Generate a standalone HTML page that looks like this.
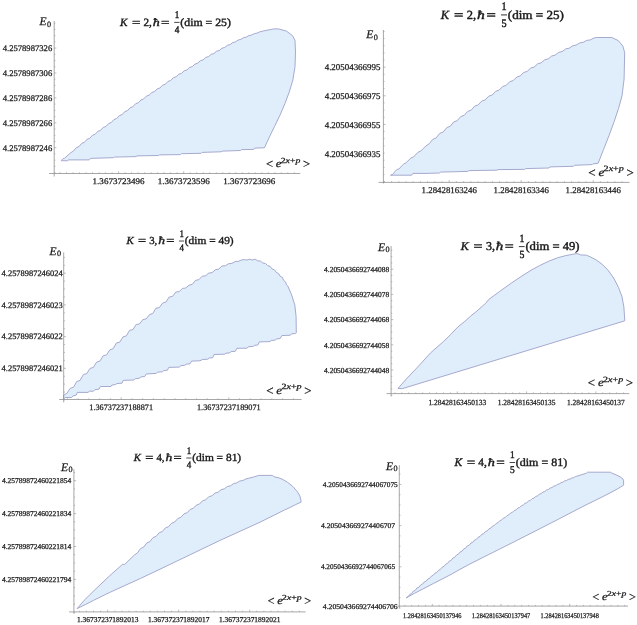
<!DOCTYPE html>
<html><head><meta charset="utf-8"><style>
html,body{margin:0;padding:0;background:#fff;width:637px;height:625px;overflow:hidden}
svg{display:block;will-change:transform}
text{font-family:"Liberation Serif",serif;text-rendering:geometricPrecision;stroke:#1a1a1a;stroke-width:0.25px}
.t text{stroke-width:0.4px}
</style></head><body>
<svg width="637" height="625" viewBox="0 0 637 625">
<polygon points="61.2,160.7 63.1,158.6 64.4,158.3 70.8,152.7 73.5,151.0 76.2,147.7 78.9,146.6 81.6,143.4 84.3,142.4 87.0,139.3 89.7,138.3 92.4,135.3 95.1,134.3 97.8,131.4 100.5,130.4 103.2,127.4 105.9,126.5 108.6,123.5 111.3,122.5 114.0,119.5 116.7,118.5 119.4,115.6 122.1,114.6 124.8,111.6 127.5,110.6 130.2,107.7 132.9,106.7 135.6,103.7 138.3,102.8 141.0,99.9 143.7,98.9 146.4,96.1 149.1,95.2 151.8,92.5 154.5,91.6 157.2,88.9 159.9,88.0 162.6,85.2 165.3,84.3 168.0,81.4 170.7,80.5 173.4,77.7 176.1,76.8 178.8,74.2 181.5,73.4 184.2,70.8 186.9,70.0 189.6,67.4 192.3,66.6 195.0,64.1 197.7,63.2 200.4,60.7 203.1,59.9 205.8,57.4 208.5,56.6 211.2,54.3 213.9,53.5 216.6,51.2 219.3,50.5 222.0,48.2 224.7,47.5 227.4,45.3 230.1,44.6 232.8,42.5 235.5,41.9 238.2,40.0 240.9,39.4 243.6,37.6 246.3,37.1 249.0,35.5 251.7,35.0 254.4,33.6 257.1,33.1 259.8,31.8 262.8,31.1 273.8,28.9 278.5,28.9 286.3,31.0 292.6,35.7 295.0,40.4 295.5,52.2 295.0,66.6 292.9,79.9 289.3,91.9 284.9,103.7 280.0,115.1 274.5,126.5 269.2,137.4 264.4,147.8 254.6,148.1 253.8,149.4 241.6,149.6 240.6,150.5 222.8,151.1 220.9,151.8 202.0,152.4 201.1,153.3 181.3,153.7 180.4,154.6 159.6,154.9 158.6,155.5 137.0,155.9 136.0,156.6 114.3,157.1 113.4,157.7 90.6,158.4 89.4,159.9 68.2,159.9 67.6,160.8" fill="#e0edfb" stroke="#9da2c8" stroke-width="0.9" stroke-linejoin="round"/>
<line x1="54.2" y1="21" x2="54.2" y2="176.5" stroke="#909090" stroke-width="0.8"/>
<line x1="49" y1="173.5" x2="300.3" y2="173.5" stroke="#909090" stroke-width="0.8"/>
<line x1="54.2" y1="23.20" x2="55.40" y2="23.20" stroke="#909090" stroke-width="0.6"/>
<line x1="54.2" y1="29.42" x2="55.40" y2="29.42" stroke="#909090" stroke-width="0.6"/>
<line x1="54.2" y1="35.65" x2="55.40" y2="35.65" stroke="#909090" stroke-width="0.6"/>
<line x1="54.2" y1="41.88" x2="55.40" y2="41.88" stroke="#909090" stroke-width="0.6"/>
<line x1="54.2" y1="48.10" x2="56.40" y2="48.10" stroke="#909090" stroke-width="0.6"/>
<line x1="54.2" y1="54.33" x2="55.40" y2="54.33" stroke="#909090" stroke-width="0.6"/>
<line x1="54.2" y1="60.55" x2="55.40" y2="60.55" stroke="#909090" stroke-width="0.6"/>
<line x1="54.2" y1="66.78" x2="55.40" y2="66.78" stroke="#909090" stroke-width="0.6"/>
<line x1="54.2" y1="73.00" x2="56.40" y2="73.00" stroke="#909090" stroke-width="0.6"/>
<line x1="54.2" y1="79.22" x2="55.40" y2="79.22" stroke="#909090" stroke-width="0.6"/>
<line x1="54.2" y1="85.45" x2="55.40" y2="85.45" stroke="#909090" stroke-width="0.6"/>
<line x1="54.2" y1="91.67" x2="55.40" y2="91.67" stroke="#909090" stroke-width="0.6"/>
<line x1="54.2" y1="97.90" x2="56.40" y2="97.90" stroke="#909090" stroke-width="0.6"/>
<line x1="54.2" y1="104.12" x2="55.40" y2="104.12" stroke="#909090" stroke-width="0.6"/>
<line x1="54.2" y1="110.35" x2="55.40" y2="110.35" stroke="#909090" stroke-width="0.6"/>
<line x1="54.2" y1="116.57" x2="55.40" y2="116.57" stroke="#909090" stroke-width="0.6"/>
<line x1="54.2" y1="122.80" x2="56.40" y2="122.80" stroke="#909090" stroke-width="0.6"/>
<line x1="54.2" y1="129.02" x2="55.40" y2="129.02" stroke="#909090" stroke-width="0.6"/>
<line x1="54.2" y1="135.25" x2="55.40" y2="135.25" stroke="#909090" stroke-width="0.6"/>
<line x1="54.2" y1="141.47" x2="55.40" y2="141.47" stroke="#909090" stroke-width="0.6"/>
<line x1="54.2" y1="147.70" x2="56.40" y2="147.70" stroke="#909090" stroke-width="0.6"/>
<line x1="54.2" y1="153.92" x2="55.40" y2="153.92" stroke="#909090" stroke-width="0.6"/>
<line x1="54.2" y1="160.15" x2="55.40" y2="160.15" stroke="#909090" stroke-width="0.6"/>
<line x1="54.2" y1="166.37" x2="55.40" y2="166.37" stroke="#909090" stroke-width="0.6"/>
<line x1="54.2" y1="172.60" x2="55.40" y2="172.60" stroke="#909090" stroke-width="0.6"/>
<line x1="60.01" y1="173.5" x2="60.01" y2="172.3" stroke="#909090" stroke-width="0.6"/>
<line x1="66.52" y1="173.5" x2="66.52" y2="172.3" stroke="#909090" stroke-width="0.6"/>
<line x1="73.03" y1="173.5" x2="73.03" y2="172.3" stroke="#909090" stroke-width="0.6"/>
<line x1="79.54" y1="173.5" x2="79.54" y2="172.3" stroke="#909090" stroke-width="0.6"/>
<line x1="86.05" y1="173.5" x2="86.05" y2="172.3" stroke="#909090" stroke-width="0.6"/>
<line x1="92.56" y1="173.5" x2="92.56" y2="172.3" stroke="#909090" stroke-width="0.6"/>
<line x1="99.07" y1="173.5" x2="99.07" y2="172.3" stroke="#909090" stroke-width="0.6"/>
<line x1="105.58" y1="173.5" x2="105.58" y2="172.3" stroke="#909090" stroke-width="0.6"/>
<line x1="112.09" y1="173.5" x2="112.09" y2="172.3" stroke="#909090" stroke-width="0.6"/>
<line x1="118.60" y1="173.5" x2="118.60" y2="171.3" stroke="#909090" stroke-width="0.6"/>
<line x1="125.11" y1="173.5" x2="125.11" y2="172.3" stroke="#909090" stroke-width="0.6"/>
<line x1="131.62" y1="173.5" x2="131.62" y2="172.3" stroke="#909090" stroke-width="0.6"/>
<line x1="138.13" y1="173.5" x2="138.13" y2="172.3" stroke="#909090" stroke-width="0.6"/>
<line x1="144.64" y1="173.5" x2="144.64" y2="172.3" stroke="#909090" stroke-width="0.6"/>
<line x1="151.15" y1="173.5" x2="151.15" y2="172.3" stroke="#909090" stroke-width="0.6"/>
<line x1="157.66" y1="173.5" x2="157.66" y2="172.3" stroke="#909090" stroke-width="0.6"/>
<line x1="164.17" y1="173.5" x2="164.17" y2="172.3" stroke="#909090" stroke-width="0.6"/>
<line x1="170.68" y1="173.5" x2="170.68" y2="172.3" stroke="#909090" stroke-width="0.6"/>
<line x1="177.19" y1="173.5" x2="177.19" y2="172.3" stroke="#909090" stroke-width="0.6"/>
<line x1="183.70" y1="173.5" x2="183.70" y2="171.3" stroke="#909090" stroke-width="0.6"/>
<line x1="190.21" y1="173.5" x2="190.21" y2="172.3" stroke="#909090" stroke-width="0.6"/>
<line x1="196.72" y1="173.5" x2="196.72" y2="172.3" stroke="#909090" stroke-width="0.6"/>
<line x1="203.23" y1="173.5" x2="203.23" y2="172.3" stroke="#909090" stroke-width="0.6"/>
<line x1="209.74" y1="173.5" x2="209.74" y2="172.3" stroke="#909090" stroke-width="0.6"/>
<line x1="216.25" y1="173.5" x2="216.25" y2="172.3" stroke="#909090" stroke-width="0.6"/>
<line x1="222.76" y1="173.5" x2="222.76" y2="172.3" stroke="#909090" stroke-width="0.6"/>
<line x1="229.27" y1="173.5" x2="229.27" y2="172.3" stroke="#909090" stroke-width="0.6"/>
<line x1="235.78" y1="173.5" x2="235.78" y2="172.3" stroke="#909090" stroke-width="0.6"/>
<line x1="242.29" y1="173.5" x2="242.29" y2="172.3" stroke="#909090" stroke-width="0.6"/>
<line x1="248.80" y1="173.5" x2="248.80" y2="172.3" stroke="#909090" stroke-width="0.6"/>
<line x1="255.31" y1="173.5" x2="255.31" y2="172.3" stroke="#909090" stroke-width="0.6"/>
<line x1="261.82" y1="173.5" x2="261.82" y2="172.3" stroke="#909090" stroke-width="0.6"/>
<line x1="268.33" y1="173.5" x2="268.33" y2="172.3" stroke="#909090" stroke-width="0.6"/>
<line x1="274.84" y1="173.5" x2="274.84" y2="172.3" stroke="#909090" stroke-width="0.6"/>
<line x1="281.35" y1="173.5" x2="281.35" y2="172.3" stroke="#909090" stroke-width="0.6"/>
<line x1="287.86" y1="173.5" x2="287.86" y2="172.3" stroke="#909090" stroke-width="0.6"/>
<line x1="294.37" y1="173.5" x2="294.37" y2="172.3" stroke="#909090" stroke-width="0.6"/>
<text x="2.7" y="51.0" font-size="8.6" textLength="49.5" lengthAdjust="spacingAndGlyphs" fill="#1a1a1a">4.2578987326</text>
<text x="2.7" y="75.9" font-size="8.6" textLength="49.5" lengthAdjust="spacingAndGlyphs" fill="#1a1a1a">4.2578987306</text>
<text x="2.7" y="100.8" font-size="8.6" textLength="49.5" lengthAdjust="spacingAndGlyphs" fill="#1a1a1a">4.2578987286</text>
<text x="2.7" y="125.7" font-size="8.6" textLength="49.5" lengthAdjust="spacingAndGlyphs" fill="#1a1a1a">4.2578987266</text>
<text x="2.7" y="150.6" font-size="8.6" textLength="49.5" lengthAdjust="spacingAndGlyphs" fill="#1a1a1a">4.2578987246</text>
<text x="92.6" y="183.8" font-size="8.6" textLength="52" lengthAdjust="spacingAndGlyphs" fill="#1a1a1a">1.3673723496</text>
<text x="157.7" y="183.8" font-size="8.6" textLength="52" lengthAdjust="spacingAndGlyphs" fill="#1a1a1a">1.3673723596</text>
<text x="223.3" y="183.8" font-size="8.6" textLength="52" lengthAdjust="spacingAndGlyphs" fill="#1a1a1a">1.3673723696</text>
<g transform="translate(39.5,25.2) scale(1.0)" fill="#1a1a1a">
<text x="-0.1" y="0" font-size="11.5" font-style="italic">E</text>
<text x="7.5" y="1.5" font-size="8.2">0</text>
</g>
<g transform="translate(266.5,166.8) scale(1.0)" fill="#1a1a1a">
<text x="-0.63" y="1.15" font-size="12.6">&lt;</text>
<text x="9.2" y="0" font-size="11" font-style="italic" textLength="5.7" lengthAdjust="spacingAndGlyphs">e</text>
<text x="14.2" y="-4.1" font-size="7.8" textLength="19.6" lengthAdjust="spacingAndGlyphs">2<tspan font-style="italic">x</tspan>+<tspan font-style="italic">p</tspan></text>
<text x="36.46" y="1.15" font-size="12.6">&gt;</text>
</g>
<g class="t" transform="translate(120.5,25.7) scale(1.0)" fill="#1a1a1a">
<text x="-0.6" y="0" font-size="11.2" font-style="italic">K</text>
<text x="11.4" y="0" font-size="11.2" textLength="8.4" lengthAdjust="spacingAndGlyphs">=</text>
<text x="22.9" y="0" font-size="11.2">2,</text>
<text x="32.2" y="0" font-size="11.2" font-style="italic" textLength="7.0" lengthAdjust="spacingAndGlyphs">ħ</text>
<text x="40.6" y="0" font-size="11.2" textLength="8.4" lengthAdjust="spacingAndGlyphs">=</text>
<text x="54.2" y="-7.9" font-size="10.2" textLength="4.6" lengthAdjust="spacingAndGlyphs">1</text>
<rect x="53.7" y="-3.8" width="5.4" height="0.8"/>
<text x="54.2" y="7.1" font-size="10.2" textLength="4.6" lengthAdjust="spacingAndGlyphs">4</text>
<text x="59.8" y="0" font-size="11.2" textLength="50.6" lengthAdjust="spacingAndGlyphs">(dim = 25)</text>
</g>
<polygon points="390.5,175.2 392.4,174.6 396.9,169.4 398.8,169.1 403.9,163.7 405.8,163.0 411.0,157.9 413.5,157.0 418.0,152.2 420.6,151.2 425.7,146.1 429.2,143.8 432.7,139.4 436.2,137.9 439.7,133.4 443.2,132.0 446.7,127.7 450.2,126.3 453.7,122.0 457.2,120.7 460.7,116.6 464.2,115.3 467.7,111.4 471.2,110.1 474.7,106.1 478.2,104.9 481.7,101.1 485.2,99.9 488.7,96.2 492.2,95.0 495.7,91.3 499.2,90.1 502.7,86.5 506.2,85.3 509.7,81.7 513.2,80.6 516.7,77.1 520.2,75.9 523.7,72.5 527.2,71.4 530.7,68.1 534.2,67.0 537.7,63.8 541.2,62.8 544.7,59.8 548.2,58.9 551.7,56.0 555.2,55.1 558.7,52.4 562.2,51.5 565.7,48.9 569.2,48.2 572.7,45.8 576.2,45.1 579.7,42.9 583.2,42.3 586.7,40.4 590.2,39.9 593.7,38.1 596.4,37.5 611.8,37.5 618.3,40.6 622.9,46.1 624.7,52.6 624.1,79.0 622.0,95.9 618.5,108.5 614.1,121.7 609.0,135.6 603.5,149.6 598.2,163.2 592.9,163.9 592.2,164.6 574.5,165.3 573.5,166.3 550.0,166.9 549.0,168.0 525.5,168.6 524.5,169.4 498.0,169.6 497.1,170.2 468.8,170.6 467.9,171.4 440.6,172.1 439.6,173.0 426.0,173.4 412.9,173.4 411.6,175.2" fill="#e0edfb" stroke="#9da2c8" stroke-width="0.9" stroke-linejoin="round"/>
<line x1="383.4" y1="30" x2="383.4" y2="183.5" stroke="#909090" stroke-width="0.8"/>
<line x1="378.5" y1="182.4" x2="629.5" y2="182.4" stroke="#909090" stroke-width="0.8"/>
<line x1="383.4" y1="31.45" x2="384.60" y2="31.45" stroke="#909090" stroke-width="0.6"/>
<line x1="383.4" y1="38.60" x2="384.60" y2="38.60" stroke="#909090" stroke-width="0.6"/>
<line x1="383.4" y1="45.75" x2="384.60" y2="45.75" stroke="#909090" stroke-width="0.6"/>
<line x1="383.4" y1="52.90" x2="384.60" y2="52.90" stroke="#909090" stroke-width="0.6"/>
<line x1="383.4" y1="60.05" x2="384.60" y2="60.05" stroke="#909090" stroke-width="0.6"/>
<line x1="383.4" y1="67.20" x2="385.60" y2="67.20" stroke="#909090" stroke-width="0.6"/>
<line x1="383.4" y1="74.35" x2="384.60" y2="74.35" stroke="#909090" stroke-width="0.6"/>
<line x1="383.4" y1="81.50" x2="384.60" y2="81.50" stroke="#909090" stroke-width="0.6"/>
<line x1="383.4" y1="88.65" x2="384.60" y2="88.65" stroke="#909090" stroke-width="0.6"/>
<line x1="383.4" y1="95.80" x2="385.60" y2="95.80" stroke="#909090" stroke-width="0.6"/>
<line x1="383.4" y1="102.95" x2="384.60" y2="102.95" stroke="#909090" stroke-width="0.6"/>
<line x1="383.4" y1="110.10" x2="384.60" y2="110.10" stroke="#909090" stroke-width="0.6"/>
<line x1="383.4" y1="117.25" x2="384.60" y2="117.25" stroke="#909090" stroke-width="0.6"/>
<line x1="383.4" y1="124.40" x2="385.60" y2="124.40" stroke="#909090" stroke-width="0.6"/>
<line x1="383.4" y1="131.55" x2="384.60" y2="131.55" stroke="#909090" stroke-width="0.6"/>
<line x1="383.4" y1="138.70" x2="384.60" y2="138.70" stroke="#909090" stroke-width="0.6"/>
<line x1="383.4" y1="145.85" x2="384.60" y2="145.85" stroke="#909090" stroke-width="0.6"/>
<line x1="383.4" y1="153.00" x2="384.60" y2="153.00" stroke="#909090" stroke-width="0.6"/>
<line x1="383.4" y1="160.15" x2="384.60" y2="160.15" stroke="#909090" stroke-width="0.6"/>
<line x1="383.4" y1="167.30" x2="384.60" y2="167.30" stroke="#909090" stroke-width="0.6"/>
<line x1="383.4" y1="174.45" x2="384.60" y2="174.45" stroke="#909090" stroke-width="0.6"/>
<line x1="383.4" y1="181.60" x2="384.60" y2="181.60" stroke="#909090" stroke-width="0.6"/>
<line x1="384.40" y1="182.4" x2="384.40" y2="181.20000000000002" stroke="#909090" stroke-width="0.6"/>
<line x1="391.60" y1="182.4" x2="391.60" y2="181.20000000000002" stroke="#909090" stroke-width="0.6"/>
<line x1="398.80" y1="182.4" x2="398.80" y2="181.20000000000002" stroke="#909090" stroke-width="0.6"/>
<line x1="406.00" y1="182.4" x2="406.00" y2="181.20000000000002" stroke="#909090" stroke-width="0.6"/>
<line x1="413.20" y1="182.4" x2="413.20" y2="181.20000000000002" stroke="#909090" stroke-width="0.6"/>
<line x1="420.40" y1="182.4" x2="420.40" y2="181.20000000000002" stroke="#909090" stroke-width="0.6"/>
<line x1="427.60" y1="182.4" x2="427.60" y2="181.20000000000002" stroke="#909090" stroke-width="0.6"/>
<line x1="434.80" y1="182.4" x2="434.80" y2="181.20000000000002" stroke="#909090" stroke-width="0.6"/>
<line x1="442.00" y1="182.4" x2="442.00" y2="181.20000000000002" stroke="#909090" stroke-width="0.6"/>
<line x1="449.20" y1="182.4" x2="449.20" y2="180.20000000000002" stroke="#909090" stroke-width="0.6"/>
<line x1="456.40" y1="182.4" x2="456.40" y2="181.20000000000002" stroke="#909090" stroke-width="0.6"/>
<line x1="463.60" y1="182.4" x2="463.60" y2="181.20000000000002" stroke="#909090" stroke-width="0.6"/>
<line x1="470.80" y1="182.4" x2="470.80" y2="181.20000000000002" stroke="#909090" stroke-width="0.6"/>
<line x1="478.00" y1="182.4" x2="478.00" y2="181.20000000000002" stroke="#909090" stroke-width="0.6"/>
<line x1="485.20" y1="182.4" x2="485.20" y2="181.20000000000002" stroke="#909090" stroke-width="0.6"/>
<line x1="492.40" y1="182.4" x2="492.40" y2="181.20000000000002" stroke="#909090" stroke-width="0.6"/>
<line x1="499.60" y1="182.4" x2="499.60" y2="181.20000000000002" stroke="#909090" stroke-width="0.6"/>
<line x1="506.80" y1="182.4" x2="506.80" y2="181.20000000000002" stroke="#909090" stroke-width="0.6"/>
<line x1="514.00" y1="182.4" x2="514.00" y2="181.20000000000002" stroke="#909090" stroke-width="0.6"/>
<line x1="521.20" y1="182.4" x2="521.20" y2="180.20000000000002" stroke="#909090" stroke-width="0.6"/>
<line x1="528.40" y1="182.4" x2="528.40" y2="181.20000000000002" stroke="#909090" stroke-width="0.6"/>
<line x1="535.60" y1="182.4" x2="535.60" y2="181.20000000000002" stroke="#909090" stroke-width="0.6"/>
<line x1="542.80" y1="182.4" x2="542.80" y2="181.20000000000002" stroke="#909090" stroke-width="0.6"/>
<line x1="550.00" y1="182.4" x2="550.00" y2="181.20000000000002" stroke="#909090" stroke-width="0.6"/>
<line x1="557.20" y1="182.4" x2="557.20" y2="181.20000000000002" stroke="#909090" stroke-width="0.6"/>
<line x1="564.40" y1="182.4" x2="564.40" y2="181.20000000000002" stroke="#909090" stroke-width="0.6"/>
<line x1="571.60" y1="182.4" x2="571.60" y2="181.20000000000002" stroke="#909090" stroke-width="0.6"/>
<line x1="578.80" y1="182.4" x2="578.80" y2="181.20000000000002" stroke="#909090" stroke-width="0.6"/>
<line x1="586.00" y1="182.4" x2="586.00" y2="181.20000000000002" stroke="#909090" stroke-width="0.6"/>
<line x1="593.20" y1="182.4" x2="593.20" y2="180.20000000000002" stroke="#909090" stroke-width="0.6"/>
<line x1="600.40" y1="182.4" x2="600.40" y2="181.20000000000002" stroke="#909090" stroke-width="0.6"/>
<line x1="607.60" y1="182.4" x2="607.60" y2="181.20000000000002" stroke="#909090" stroke-width="0.6"/>
<line x1="614.80" y1="182.4" x2="614.80" y2="181.20000000000002" stroke="#909090" stroke-width="0.6"/>
<line x1="622.00" y1="182.4" x2="622.00" y2="181.20000000000002" stroke="#909090" stroke-width="0.6"/>
<text x="324.7" y="70.2" font-size="8.9" textLength="55.7" lengthAdjust="spacingAndGlyphs" fill="#1a1a1a">4.20504366995</text>
<text x="324.7" y="98.8" font-size="8.9" textLength="55.7" lengthAdjust="spacingAndGlyphs" fill="#1a1a1a">4.20504366975</text>
<text x="324.7" y="127.8" font-size="8.9" textLength="55.7" lengthAdjust="spacingAndGlyphs" fill="#1a1a1a">4.20504366955</text>
<text x="324.7" y="157.1" font-size="8.9" textLength="55.7" lengthAdjust="spacingAndGlyphs" fill="#1a1a1a">4.20504366935</text>
<text x="421.6" y="193.3" font-size="8.9" textLength="55.2" lengthAdjust="spacingAndGlyphs" fill="#1a1a1a">1.28428163246</text>
<text x="493.6" y="193.3" font-size="8.9" textLength="55.2" lengthAdjust="spacingAndGlyphs" fill="#1a1a1a">1.28428163346</text>
<text x="565.6" y="193.3" font-size="8.9" textLength="55.2" lengthAdjust="spacingAndGlyphs" fill="#1a1a1a">1.28428163446</text>
<g transform="translate(366.3,38.4) scale(1.0)" fill="#1a1a1a">
<text x="-0.1" y="0" font-size="11.5" font-style="italic">E</text>
<text x="7.5" y="1.5" font-size="8.2">0</text>
</g>
<g transform="translate(589,175.6) scale(1.03)" fill="#1a1a1a">
<text x="-0.63" y="1.15" font-size="12.6">&lt;</text>
<text x="9.2" y="0" font-size="11" font-style="italic" textLength="5.7" lengthAdjust="spacingAndGlyphs">e</text>
<text x="14.2" y="-4.1" font-size="7.8" textLength="19.6" lengthAdjust="spacingAndGlyphs">2<tspan font-style="italic">x</tspan>+<tspan font-style="italic">p</tspan></text>
<text x="36.46" y="1.15" font-size="12.6">&gt;</text>
</g>
<g class="t" transform="translate(441.4,18.7) scale(1.11)" fill="#1a1a1a">
<text x="-0.6" y="0" font-size="11.2" font-style="italic">K</text>
<text x="11.4" y="0" font-size="11.2" textLength="8.4" lengthAdjust="spacingAndGlyphs">=</text>
<text x="22.9" y="0" font-size="11.2">2,</text>
<text x="32.2" y="0" font-size="11.2" font-style="italic" textLength="7.0" lengthAdjust="spacingAndGlyphs">ħ</text>
<text x="40.6" y="0" font-size="11.2" textLength="8.4" lengthAdjust="spacingAndGlyphs">=</text>
<text x="54.2" y="-7.9" font-size="10.2" textLength="4.6" lengthAdjust="spacingAndGlyphs">1</text>
<rect x="53.7" y="-3.8" width="5.4" height="0.8"/>
<text x="54.2" y="7.1" font-size="10.2" textLength="4.6" lengthAdjust="spacingAndGlyphs">5</text>
<text x="59.8" y="0" font-size="11.2" textLength="50.6" lengthAdjust="spacingAndGlyphs">(dim = 25)</text>
</g>
<polygon points="63.6,399.2 63.6,395.2 66.9,393.3 70.2,388.3 73.5,387.2 76.8,381.5 80.1,380.4 83.4,374.4 86.7,373.7 90.0,368.4 93.3,367.5 96.6,362.1 99.9,361.1 103.2,355.7 106.5,354.9 109.8,349.9 113.1,348.7 116.4,343.0 119.7,342.2 123.0,336.9 126.3,335.9 129.6,330.3 132.9,329.6 136.2,324.5 139.5,323.9 142.8,319.6 146.1,318.9 149.4,314.7 152.7,313.5 156.0,308.2 159.3,307.6 162.6,303.1 165.9,302.1 169.2,297.0 172.5,296.4 175.8,292.0 179.1,291.7 182.4,288.4 185.7,288.0 189.0,285.2 192.3,284.3 195.6,280.3 198.9,279.7 202.2,276.2 205.5,275.8 208.8,273.1 212.1,272.6 215.4,269.7 218.7,269.1 222.0,266.0 225.3,265.8 228.6,263.7 231.9,263.4 235.2,261.5 238.5,261.3 241.8,259.9 244.2,259.6 246.9,260.0 249.7,259.2 252.4,260.0 255.2,259.2 257.6,260.8 260.5,261.1 262.7,262.9 265.5,263.5 267.5,265.5 270.2,266.4 271.8,268.8 274.5,269.9 276.1,272.2 278.6,273.6 280.0,276.1 282.5,277.5 283.5,280.2 285.7,282.1 286.5,284.8 287.7,285.8 291.6,294.8 294.8,305.0 296.1,316.6 296.3,332.8 295.5,333.5 291.6,333.8 290.4,335.2 281.8,335.6 280.2,338.5 276.3,339.0 275.1,340.1 271.2,340.5 270.0,341.6 259.4,341.9 257.8,345.0 254.7,345.3 253.5,346.3 248.3,346.8 247.1,348.2 236.9,348.3 235.3,351.3 231.0,351.6 229.8,352.9 225.9,353.2 224.7,354.2 214.1,354.5 212.6,357.8 209.4,357.9 207.8,359.2 202.4,359.5 200.0,360.8 191.6,361.1 190.0,363.8 186.1,364.2 184.9,365.3 181.0,365.6 179.4,367.1 168.8,367.4 167.3,370.3 163.7,370.5 162.6,371.8 157.5,372.1 156.3,373.4 146.3,374.0 144.7,376.5 140.8,376.9 139.6,378.2 135.3,378.7 133.8,380.0 123.2,380.4 122.0,383.2 116.9,383.5 115.7,384.5 111.8,385.1 111.0,386.5 100.5,386.5 99.0,389.2 95.0,389.6 93.5,391.2 89.5,391.2 88.0,392.4 77.4,392.4 76.2,395.1 73.0,395.9 71.5,397.5 65.2,397.5 63.5,399.4" fill="#e0edfb" stroke="#9da2c8" stroke-width="0.9" stroke-linejoin="round"/>
<line x1="63.7" y1="252.4" x2="63.7" y2="402.4" stroke="#909090" stroke-width="0.8"/>
<line x1="59.2" y1="399.5" x2="301.6" y2="399.5" stroke="#909090" stroke-width="0.8"/>
<line x1="63.7" y1="257.35" x2="64.90" y2="257.35" stroke="#909090" stroke-width="0.6"/>
<line x1="63.7" y1="265.27" x2="64.90" y2="265.27" stroke="#909090" stroke-width="0.6"/>
<line x1="63.7" y1="273.20" x2="65.90" y2="273.20" stroke="#909090" stroke-width="0.6"/>
<line x1="63.7" y1="281.12" x2="64.90" y2="281.12" stroke="#909090" stroke-width="0.6"/>
<line x1="63.7" y1="289.05" x2="64.90" y2="289.05" stroke="#909090" stroke-width="0.6"/>
<line x1="63.7" y1="296.98" x2="64.90" y2="296.98" stroke="#909090" stroke-width="0.6"/>
<line x1="63.7" y1="304.90" x2="65.90" y2="304.90" stroke="#909090" stroke-width="0.6"/>
<line x1="63.7" y1="312.83" x2="64.90" y2="312.83" stroke="#909090" stroke-width="0.6"/>
<line x1="63.7" y1="320.75" x2="64.90" y2="320.75" stroke="#909090" stroke-width="0.6"/>
<line x1="63.7" y1="328.68" x2="64.90" y2="328.68" stroke="#909090" stroke-width="0.6"/>
<line x1="63.7" y1="336.60" x2="65.90" y2="336.60" stroke="#909090" stroke-width="0.6"/>
<line x1="63.7" y1="344.53" x2="64.90" y2="344.53" stroke="#909090" stroke-width="0.6"/>
<line x1="63.7" y1="352.45" x2="64.90" y2="352.45" stroke="#909090" stroke-width="0.6"/>
<line x1="63.7" y1="360.38" x2="64.90" y2="360.38" stroke="#909090" stroke-width="0.6"/>
<line x1="63.7" y1="368.30" x2="65.90" y2="368.30" stroke="#909090" stroke-width="0.6"/>
<line x1="63.7" y1="376.23" x2="64.90" y2="376.23" stroke="#909090" stroke-width="0.6"/>
<line x1="63.7" y1="384.15" x2="64.90" y2="384.15" stroke="#909090" stroke-width="0.6"/>
<line x1="63.7" y1="392.08" x2="64.90" y2="392.08" stroke="#909090" stroke-width="0.6"/>
<line x1="63.7" y1="400.00" x2="64.90" y2="400.00" stroke="#909090" stroke-width="0.6"/>
<line x1="67.40" y1="399.5" x2="67.40" y2="398.3" stroke="#909090" stroke-width="0.6"/>
<line x1="78.16" y1="399.5" x2="78.16" y2="398.3" stroke="#909090" stroke-width="0.6"/>
<line x1="88.92" y1="399.5" x2="88.92" y2="398.3" stroke="#909090" stroke-width="0.6"/>
<line x1="99.68" y1="399.5" x2="99.68" y2="398.3" stroke="#909090" stroke-width="0.6"/>
<line x1="110.44" y1="399.5" x2="110.44" y2="398.3" stroke="#909090" stroke-width="0.6"/>
<line x1="121.20" y1="399.5" x2="121.20" y2="397.3" stroke="#909090" stroke-width="0.6"/>
<line x1="131.96" y1="399.5" x2="131.96" y2="398.3" stroke="#909090" stroke-width="0.6"/>
<line x1="142.72" y1="399.5" x2="142.72" y2="398.3" stroke="#909090" stroke-width="0.6"/>
<line x1="153.48" y1="399.5" x2="153.48" y2="398.3" stroke="#909090" stroke-width="0.6"/>
<line x1="164.24" y1="399.5" x2="164.24" y2="398.3" stroke="#909090" stroke-width="0.6"/>
<line x1="175.00" y1="399.5" x2="175.00" y2="398.3" stroke="#909090" stroke-width="0.6"/>
<line x1="185.76" y1="399.5" x2="185.76" y2="398.3" stroke="#909090" stroke-width="0.6"/>
<line x1="196.52" y1="399.5" x2="196.52" y2="398.3" stroke="#909090" stroke-width="0.6"/>
<line x1="207.28" y1="399.5" x2="207.28" y2="398.3" stroke="#909090" stroke-width="0.6"/>
<line x1="218.04" y1="399.5" x2="218.04" y2="398.3" stroke="#909090" stroke-width="0.6"/>
<line x1="228.80" y1="399.5" x2="228.80" y2="397.3" stroke="#909090" stroke-width="0.6"/>
<line x1="239.56" y1="399.5" x2="239.56" y2="398.3" stroke="#909090" stroke-width="0.6"/>
<line x1="250.32" y1="399.5" x2="250.32" y2="398.3" stroke="#909090" stroke-width="0.6"/>
<line x1="261.08" y1="399.5" x2="261.08" y2="398.3" stroke="#909090" stroke-width="0.6"/>
<line x1="271.84" y1="399.5" x2="271.84" y2="398.3" stroke="#909090" stroke-width="0.6"/>
<line x1="282.60" y1="399.5" x2="282.60" y2="398.3" stroke="#909090" stroke-width="0.6"/>
<line x1="293.36" y1="399.5" x2="293.36" y2="398.3" stroke="#909090" stroke-width="0.6"/>
<text x="1.6" y="276.1" font-size="8.4" textLength="61.1" lengthAdjust="spacingAndGlyphs" fill="#1a1a1a">4.2578987246024</text>
<text x="1.6" y="307.8" font-size="8.4" textLength="61.1" lengthAdjust="spacingAndGlyphs" fill="#1a1a1a">4.2578987246023</text>
<text x="1.6" y="339.3" font-size="8.4" textLength="61.1" lengthAdjust="spacingAndGlyphs" fill="#1a1a1a">4.2578987246022</text>
<text x="1.6" y="370.9" font-size="8.4" textLength="61.1" lengthAdjust="spacingAndGlyphs" fill="#1a1a1a">4.2578987246021</text>
<text x="89.3" y="410.0" font-size="8.4" textLength="63.7" lengthAdjust="spacingAndGlyphs" fill="#1a1a1a">1.36737237188871</text>
<text x="197.0" y="410.0" font-size="8.4" textLength="63.7" lengthAdjust="spacingAndGlyphs" fill="#1a1a1a">1.36737237189071</text>
<g transform="translate(49.6,254.8) scale(1.0)" fill="#1a1a1a">
<text x="-0.1" y="0" font-size="11.5" font-style="italic">E</text>
<text x="7.5" y="1.5" font-size="8.2">0</text>
</g>
<g transform="translate(266.9,393.5) scale(1.027)" fill="#1a1a1a">
<text x="-0.63" y="1.15" font-size="12.6">&lt;</text>
<text x="9.2" y="0" font-size="11" font-style="italic" textLength="5.7" lengthAdjust="spacingAndGlyphs">e</text>
<text x="14.2" y="-4.1" font-size="7.8" textLength="19.6" lengthAdjust="spacingAndGlyphs">2<tspan font-style="italic">x</tspan>+<tspan font-style="italic">p</tspan></text>
<text x="36.46" y="1.15" font-size="12.6">&gt;</text>
</g>
<g class="t" transform="translate(127.1,244.3) scale(0.965)" fill="#1a1a1a">
<text x="-0.6" y="0" font-size="11.2" font-style="italic">K</text>
<text x="11.4" y="0" font-size="11.2" textLength="8.4" lengthAdjust="spacingAndGlyphs">=</text>
<text x="22.9" y="0" font-size="11.2">3,</text>
<text x="32.2" y="0" font-size="11.2" font-style="italic" textLength="7.0" lengthAdjust="spacingAndGlyphs">ħ</text>
<text x="40.6" y="0" font-size="11.2" textLength="8.4" lengthAdjust="spacingAndGlyphs">=</text>
<text x="54.2" y="-7.9" font-size="10.2" textLength="4.6" lengthAdjust="spacingAndGlyphs">1</text>
<rect x="53.7" y="-3.8" width="5.4" height="0.8"/>
<text x="54.2" y="7.1" font-size="10.2" textLength="4.6" lengthAdjust="spacingAndGlyphs">4</text>
<text x="59.8" y="0" font-size="11.2" textLength="50.6" lengthAdjust="spacingAndGlyphs">(dim = 49)</text>
</g>
<polygon points="398.0,388.4 406.3,379.0 417.8,366.9 430.6,352.8 443.4,341.6 450.8,334.4 457.8,327.0 464.2,321.9 470.6,316.1 477.0,311.0 483.4,305.2 485.5,303.5 488.8,299.4 499.3,291.7 510.9,283.4 521.9,276.0 531.1,270.2 539.7,265.5 548.7,261.2 557.6,257.8 565.7,255.6 572.2,254.4 577.1,253.5 580.8,254.9 586.5,255.2 590.6,257.0 596.0,259.8 602.0,264.1 608.0,270.1 613.7,278.1 618.5,287.4 622.0,296.7 623.9,307.1 624.8,320.6 624.8,320.8 402.2,388.7" fill="#e0edfb" stroke="#9da2c8" stroke-width="0.9" stroke-linejoin="round"/>
<line x1="391.1" y1="246" x2="391.1" y2="396.5" stroke="#909090" stroke-width="0.8"/>
<line x1="386.5" y1="393.6" x2="629.3" y2="393.6" stroke="#909090" stroke-width="0.8"/>
<line x1="391.1" y1="250.30" x2="392.30" y2="250.30" stroke="#909090" stroke-width="0.6"/>
<line x1="391.1" y1="256.60" x2="392.30" y2="256.60" stroke="#909090" stroke-width="0.6"/>
<line x1="391.1" y1="262.90" x2="392.30" y2="262.90" stroke="#909090" stroke-width="0.6"/>
<line x1="391.1" y1="269.20" x2="393.30" y2="269.20" stroke="#909090" stroke-width="0.6"/>
<line x1="391.1" y1="275.50" x2="392.30" y2="275.50" stroke="#909090" stroke-width="0.6"/>
<line x1="391.1" y1="281.80" x2="392.30" y2="281.80" stroke="#909090" stroke-width="0.6"/>
<line x1="391.1" y1="288.10" x2="392.30" y2="288.10" stroke="#909090" stroke-width="0.6"/>
<line x1="391.1" y1="294.40" x2="393.30" y2="294.40" stroke="#909090" stroke-width="0.6"/>
<line x1="391.1" y1="300.70" x2="392.30" y2="300.70" stroke="#909090" stroke-width="0.6"/>
<line x1="391.1" y1="307.00" x2="392.30" y2="307.00" stroke="#909090" stroke-width="0.6"/>
<line x1="391.1" y1="313.30" x2="392.30" y2="313.30" stroke="#909090" stroke-width="0.6"/>
<line x1="391.1" y1="319.60" x2="393.30" y2="319.60" stroke="#909090" stroke-width="0.6"/>
<line x1="391.1" y1="325.90" x2="392.30" y2="325.90" stroke="#909090" stroke-width="0.6"/>
<line x1="391.1" y1="332.20" x2="392.30" y2="332.20" stroke="#909090" stroke-width="0.6"/>
<line x1="391.1" y1="338.50" x2="392.30" y2="338.50" stroke="#909090" stroke-width="0.6"/>
<line x1="391.1" y1="344.80" x2="393.30" y2="344.80" stroke="#909090" stroke-width="0.6"/>
<line x1="391.1" y1="351.10" x2="392.30" y2="351.10" stroke="#909090" stroke-width="0.6"/>
<line x1="391.1" y1="357.40" x2="392.30" y2="357.40" stroke="#909090" stroke-width="0.6"/>
<line x1="391.1" y1="363.70" x2="392.30" y2="363.70" stroke="#909090" stroke-width="0.6"/>
<line x1="391.1" y1="370.00" x2="393.30" y2="370.00" stroke="#909090" stroke-width="0.6"/>
<line x1="391.1" y1="376.30" x2="392.30" y2="376.30" stroke="#909090" stroke-width="0.6"/>
<line x1="391.1" y1="382.60" x2="392.30" y2="382.60" stroke="#909090" stroke-width="0.6"/>
<line x1="391.1" y1="388.90" x2="392.30" y2="388.90" stroke="#909090" stroke-width="0.6"/>
<line x1="391.1" y1="395.20" x2="392.30" y2="395.20" stroke="#909090" stroke-width="0.6"/>
<line x1="394.93" y1="393.6" x2="394.93" y2="392.40000000000003" stroke="#909090" stroke-width="0.6"/>
<line x1="401.86" y1="393.6" x2="401.86" y2="392.40000000000003" stroke="#909090" stroke-width="0.6"/>
<line x1="408.79" y1="393.6" x2="408.79" y2="392.40000000000003" stroke="#909090" stroke-width="0.6"/>
<line x1="415.72" y1="393.6" x2="415.72" y2="392.40000000000003" stroke="#909090" stroke-width="0.6"/>
<line x1="422.65" y1="393.6" x2="422.65" y2="392.40000000000003" stroke="#909090" stroke-width="0.6"/>
<line x1="429.58" y1="393.6" x2="429.58" y2="392.40000000000003" stroke="#909090" stroke-width="0.6"/>
<line x1="436.51" y1="393.6" x2="436.51" y2="392.40000000000003" stroke="#909090" stroke-width="0.6"/>
<line x1="443.44" y1="393.6" x2="443.44" y2="392.40000000000003" stroke="#909090" stroke-width="0.6"/>
<line x1="450.37" y1="393.6" x2="450.37" y2="392.40000000000003" stroke="#909090" stroke-width="0.6"/>
<line x1="457.30" y1="393.6" x2="457.30" y2="391.40000000000003" stroke="#909090" stroke-width="0.6"/>
<line x1="464.23" y1="393.6" x2="464.23" y2="392.40000000000003" stroke="#909090" stroke-width="0.6"/>
<line x1="471.16" y1="393.6" x2="471.16" y2="392.40000000000003" stroke="#909090" stroke-width="0.6"/>
<line x1="478.09" y1="393.6" x2="478.09" y2="392.40000000000003" stroke="#909090" stroke-width="0.6"/>
<line x1="485.02" y1="393.6" x2="485.02" y2="392.40000000000003" stroke="#909090" stroke-width="0.6"/>
<line x1="491.95" y1="393.6" x2="491.95" y2="392.40000000000003" stroke="#909090" stroke-width="0.6"/>
<line x1="498.88" y1="393.6" x2="498.88" y2="392.40000000000003" stroke="#909090" stroke-width="0.6"/>
<line x1="505.81" y1="393.6" x2="505.81" y2="392.40000000000003" stroke="#909090" stroke-width="0.6"/>
<line x1="512.74" y1="393.6" x2="512.74" y2="392.40000000000003" stroke="#909090" stroke-width="0.6"/>
<line x1="519.67" y1="393.6" x2="519.67" y2="392.40000000000003" stroke="#909090" stroke-width="0.6"/>
<line x1="526.60" y1="393.6" x2="526.60" y2="391.40000000000003" stroke="#909090" stroke-width="0.6"/>
<line x1="533.53" y1="393.6" x2="533.53" y2="392.40000000000003" stroke="#909090" stroke-width="0.6"/>
<line x1="540.46" y1="393.6" x2="540.46" y2="392.40000000000003" stroke="#909090" stroke-width="0.6"/>
<line x1="547.39" y1="393.6" x2="547.39" y2="392.40000000000003" stroke="#909090" stroke-width="0.6"/>
<line x1="554.32" y1="393.6" x2="554.32" y2="392.40000000000003" stroke="#909090" stroke-width="0.6"/>
<line x1="561.25" y1="393.6" x2="561.25" y2="392.40000000000003" stroke="#909090" stroke-width="0.6"/>
<line x1="568.18" y1="393.6" x2="568.18" y2="392.40000000000003" stroke="#909090" stroke-width="0.6"/>
<line x1="575.11" y1="393.6" x2="575.11" y2="392.40000000000003" stroke="#909090" stroke-width="0.6"/>
<line x1="582.04" y1="393.6" x2="582.04" y2="392.40000000000003" stroke="#909090" stroke-width="0.6"/>
<line x1="588.97" y1="393.6" x2="588.97" y2="392.40000000000003" stroke="#909090" stroke-width="0.6"/>
<line x1="595.90" y1="393.6" x2="595.90" y2="391.40000000000003" stroke="#909090" stroke-width="0.6"/>
<line x1="602.83" y1="393.6" x2="602.83" y2="392.40000000000003" stroke="#909090" stroke-width="0.6"/>
<line x1="609.76" y1="393.6" x2="609.76" y2="392.40000000000003" stroke="#909090" stroke-width="0.6"/>
<line x1="616.69" y1="393.6" x2="616.69" y2="392.40000000000003" stroke="#909090" stroke-width="0.6"/>
<line x1="623.62" y1="393.6" x2="623.62" y2="392.40000000000003" stroke="#909090" stroke-width="0.6"/>
<text x="324.1" y="271.8" font-size="7.6" textLength="65.1" lengthAdjust="spacingAndGlyphs" fill="#1a1a1a">4.2050436692744088</text>
<text x="324.1" y="297.0" font-size="7.6" textLength="65.1" lengthAdjust="spacingAndGlyphs" fill="#1a1a1a">4.2050436692744078</text>
<text x="324.1" y="322.3" font-size="7.6" textLength="65.1" lengthAdjust="spacingAndGlyphs" fill="#1a1a1a">4.2050436692744068</text>
<text x="324.1" y="347.7" font-size="7.6" textLength="65.1" lengthAdjust="spacingAndGlyphs" fill="#1a1a1a">4.2050436692744058</text>
<text x="324.1" y="373.0" font-size="7.6" textLength="65.1" lengthAdjust="spacingAndGlyphs" fill="#1a1a1a">4.2050436692744048</text>
<text x="428.4" y="404.8" font-size="7.8" textLength="57.8" lengthAdjust="spacingAndGlyphs" fill="#1a1a1a">1.28428163450133</text>
<text x="497.7" y="404.8" font-size="7.8" textLength="57.8" lengthAdjust="spacingAndGlyphs" fill="#1a1a1a">1.28428163450135</text>
<text x="567.0" y="404.8" font-size="7.8" textLength="57.8" lengthAdjust="spacingAndGlyphs" fill="#1a1a1a">1.28428163450137</text>
<g transform="translate(378,250.8) scale(1.0)" fill="#1a1a1a">
<text x="-0.1" y="0" font-size="11.5" font-style="italic">E</text>
<text x="7.5" y="1.5" font-size="8.2">0</text>
</g>
<g transform="translate(588.5,385.8) scale(1.025)" fill="#1a1a1a">
<text x="-0.63" y="1.15" font-size="12.6">&lt;</text>
<text x="9.2" y="0" font-size="11" font-style="italic" textLength="5.7" lengthAdjust="spacingAndGlyphs">e</text>
<text x="14.2" y="-4.1" font-size="7.8" textLength="19.6" lengthAdjust="spacingAndGlyphs">2<tspan font-style="italic">x</tspan>+<tspan font-style="italic">p</tspan></text>
<text x="36.46" y="1.15" font-size="12.6">&gt;</text>
</g>
<g class="t" transform="translate(461.4,250.3) scale(1.07)" fill="#1a1a1a">
<text x="-0.6" y="0" font-size="11.2" font-style="italic">K</text>
<text x="11.4" y="0" font-size="11.2" textLength="8.4" lengthAdjust="spacingAndGlyphs">=</text>
<text x="22.9" y="0" font-size="11.2">3,</text>
<text x="32.2" y="0" font-size="11.2" font-style="italic" textLength="7.0" lengthAdjust="spacingAndGlyphs">ħ</text>
<text x="40.6" y="0" font-size="11.2" textLength="8.4" lengthAdjust="spacingAndGlyphs">=</text>
<text x="54.2" y="-7.9" font-size="10.2" textLength="4.6" lengthAdjust="spacingAndGlyphs">1</text>
<rect x="53.7" y="-3.8" width="5.4" height="0.8"/>
<text x="54.2" y="7.1" font-size="10.2" textLength="4.6" lengthAdjust="spacingAndGlyphs">5</text>
<text x="59.8" y="0" font-size="11.2" textLength="50.6" lengthAdjust="spacingAndGlyphs">(dim = 49)</text>
</g>
<polygon points="77.1,608.6 84.1,600.4 95.0,589.7 109.2,576.2 116.9,569.3 122.7,564.2 124.6,564.5 134.4,555.0 137.5,552.8 140.6,548.5 143.7,547.1 146.8,542.9 149.9,541.6 153.0,537.6 156.1,536.4 159.2,532.7 162.3,531.5 165.4,527.9 168.5,526.7 171.6,523.2 174.7,522.0 177.8,518.5 180.9,517.3 184.0,513.9 187.1,512.8 190.2,509.4 193.3,508.3 196.4,505.1 199.5,504.0 202.6,500.8 205.7,499.8 208.8,496.7 211.9,495.8 215.0,493.0 218.1,492.2 221.2,489.6 224.3,488.9 227.4,486.5 230.5,485.8 233.6,483.6 236.7,482.9 239.8,481.0 242.9,480.5 246.0,478.9 248.9,478.2 254.7,476.7 258.7,475.4 272.3,475.4 274.2,476.8 278.7,477.8 282.9,479.5 287.6,482.3 292.8,486.5 297.2,491.5 300.0,496.2 301.0,500.8 301.0,502.2 295.8,504.5 290.2,507.4 284.5,510.0 260.0,522.2 240.0,531.3 220.0,540.4 200.0,550.0 180.0,559.6 160.0,569.2 140.6,578.4 124.9,585.5 109.2,592.7 105.8,594.3 93.5,600.4 85.7,604.4" fill="#e0edfb" stroke="#9da2c8" stroke-width="0.9" stroke-linejoin="round"/>
<line x1="73.9" y1="469.2" x2="73.9" y2="613.8" stroke="#909090" stroke-width="0.8"/>
<line x1="69.1" y1="611.9" x2="305.6" y2="611.9" stroke="#909090" stroke-width="0.8"/>
<line x1="73.9" y1="472.47" x2="75.10" y2="472.47" stroke="#909090" stroke-width="0.6"/>
<line x1="73.9" y1="480.70" x2="76.10" y2="480.70" stroke="#909090" stroke-width="0.6"/>
<line x1="73.9" y1="488.93" x2="75.10" y2="488.93" stroke="#909090" stroke-width="0.6"/>
<line x1="73.9" y1="497.15" x2="75.10" y2="497.15" stroke="#909090" stroke-width="0.6"/>
<line x1="73.9" y1="505.38" x2="75.10" y2="505.38" stroke="#909090" stroke-width="0.6"/>
<line x1="73.9" y1="513.60" x2="76.10" y2="513.60" stroke="#909090" stroke-width="0.6"/>
<line x1="73.9" y1="521.83" x2="75.10" y2="521.83" stroke="#909090" stroke-width="0.6"/>
<line x1="73.9" y1="530.05" x2="75.10" y2="530.05" stroke="#909090" stroke-width="0.6"/>
<line x1="73.9" y1="538.28" x2="75.10" y2="538.28" stroke="#909090" stroke-width="0.6"/>
<line x1="73.9" y1="546.50" x2="76.10" y2="546.50" stroke="#909090" stroke-width="0.6"/>
<line x1="73.9" y1="554.73" x2="75.10" y2="554.73" stroke="#909090" stroke-width="0.6"/>
<line x1="73.9" y1="562.95" x2="75.10" y2="562.95" stroke="#909090" stroke-width="0.6"/>
<line x1="73.9" y1="571.18" x2="75.10" y2="571.18" stroke="#909090" stroke-width="0.6"/>
<line x1="73.9" y1="579.40" x2="76.10" y2="579.40" stroke="#909090" stroke-width="0.6"/>
<line x1="73.9" y1="587.63" x2="75.10" y2="587.63" stroke="#909090" stroke-width="0.6"/>
<line x1="73.9" y1="595.85" x2="75.10" y2="595.85" stroke="#909090" stroke-width="0.6"/>
<line x1="73.9" y1="604.08" x2="75.10" y2="604.08" stroke="#909090" stroke-width="0.6"/>
<line x1="73.9" y1="612.30" x2="75.10" y2="612.30" stroke="#909090" stroke-width="0.6"/>
<line x1="79.30" y1="611.9" x2="79.30" y2="610.6999999999999" stroke="#909090" stroke-width="0.6"/>
<line x1="86.40" y1="611.9" x2="86.40" y2="610.6999999999999" stroke="#909090" stroke-width="0.6"/>
<line x1="93.50" y1="611.9" x2="93.50" y2="610.6999999999999" stroke="#909090" stroke-width="0.6"/>
<line x1="100.60" y1="611.9" x2="100.60" y2="610.6999999999999" stroke="#909090" stroke-width="0.6"/>
<line x1="107.70" y1="611.9" x2="107.70" y2="609.6999999999999" stroke="#909090" stroke-width="0.6"/>
<line x1="114.80" y1="611.9" x2="114.80" y2="610.6999999999999" stroke="#909090" stroke-width="0.6"/>
<line x1="121.90" y1="611.9" x2="121.90" y2="610.6999999999999" stroke="#909090" stroke-width="0.6"/>
<line x1="129.00" y1="611.9" x2="129.00" y2="610.6999999999999" stroke="#909090" stroke-width="0.6"/>
<line x1="136.10" y1="611.9" x2="136.10" y2="610.6999999999999" stroke="#909090" stroke-width="0.6"/>
<line x1="143.20" y1="611.9" x2="143.20" y2="610.6999999999999" stroke="#909090" stroke-width="0.6"/>
<line x1="150.30" y1="611.9" x2="150.30" y2="610.6999999999999" stroke="#909090" stroke-width="0.6"/>
<line x1="157.40" y1="611.9" x2="157.40" y2="610.6999999999999" stroke="#909090" stroke-width="0.6"/>
<line x1="164.50" y1="611.9" x2="164.50" y2="610.6999999999999" stroke="#909090" stroke-width="0.6"/>
<line x1="171.60" y1="611.9" x2="171.60" y2="610.6999999999999" stroke="#909090" stroke-width="0.6"/>
<line x1="178.70" y1="611.9" x2="178.70" y2="609.6999999999999" stroke="#909090" stroke-width="0.6"/>
<line x1="185.80" y1="611.9" x2="185.80" y2="610.6999999999999" stroke="#909090" stroke-width="0.6"/>
<line x1="192.90" y1="611.9" x2="192.90" y2="610.6999999999999" stroke="#909090" stroke-width="0.6"/>
<line x1="200.00" y1="611.9" x2="200.00" y2="610.6999999999999" stroke="#909090" stroke-width="0.6"/>
<line x1="207.10" y1="611.9" x2="207.10" y2="610.6999999999999" stroke="#909090" stroke-width="0.6"/>
<line x1="214.20" y1="611.9" x2="214.20" y2="610.6999999999999" stroke="#909090" stroke-width="0.6"/>
<line x1="221.30" y1="611.9" x2="221.30" y2="610.6999999999999" stroke="#909090" stroke-width="0.6"/>
<line x1="228.40" y1="611.9" x2="228.40" y2="610.6999999999999" stroke="#909090" stroke-width="0.6"/>
<line x1="235.50" y1="611.9" x2="235.50" y2="610.6999999999999" stroke="#909090" stroke-width="0.6"/>
<line x1="242.60" y1="611.9" x2="242.60" y2="610.6999999999999" stroke="#909090" stroke-width="0.6"/>
<line x1="249.70" y1="611.9" x2="249.70" y2="609.6999999999999" stroke="#909090" stroke-width="0.6"/>
<line x1="256.80" y1="611.9" x2="256.80" y2="610.6999999999999" stroke="#909090" stroke-width="0.6"/>
<line x1="263.90" y1="611.9" x2="263.90" y2="610.6999999999999" stroke="#909090" stroke-width="0.6"/>
<line x1="271.00" y1="611.9" x2="271.00" y2="610.6999999999999" stroke="#909090" stroke-width="0.6"/>
<line x1="278.10" y1="611.9" x2="278.10" y2="610.6999999999999" stroke="#909090" stroke-width="0.6"/>
<line x1="285.20" y1="611.9" x2="285.20" y2="610.6999999999999" stroke="#909090" stroke-width="0.6"/>
<line x1="292.30" y1="611.9" x2="292.30" y2="610.6999999999999" stroke="#909090" stroke-width="0.6"/>
<line x1="299.40" y1="611.9" x2="299.40" y2="610.6999999999999" stroke="#909090" stroke-width="0.6"/>
<text x="1.9" y="483.2" font-size="7.5" textLength="69.3" lengthAdjust="spacingAndGlyphs" fill="#1a1a1a">4.25789872460221854</text>
<text x="1.9" y="516.1" font-size="7.5" textLength="69.3" lengthAdjust="spacingAndGlyphs" fill="#1a1a1a">4.25789872460221834</text>
<text x="1.9" y="548.9" font-size="7.5" textLength="69.3" lengthAdjust="spacingAndGlyphs" fill="#1a1a1a">4.25789872460221814</text>
<text x="1.9" y="581.9" font-size="7.5" textLength="69.3" lengthAdjust="spacingAndGlyphs" fill="#1a1a1a">4.25789872460221794</text>
<text x="77.0" y="621.8" font-size="7.5" textLength="61.4" lengthAdjust="spacingAndGlyphs" fill="#1a1a1a">1.367372371892013</text>
<text x="148.0" y="621.8" font-size="7.5" textLength="61.4" lengthAdjust="spacingAndGlyphs" fill="#1a1a1a">1.367372371892017</text>
<text x="219.0" y="621.8" font-size="7.5" textLength="61.4" lengthAdjust="spacingAndGlyphs" fill="#1a1a1a">1.367372371892021</text>
<g transform="translate(61.1,470.5) scale(1.0)" fill="#1a1a1a">
<text x="-0.1" y="0" font-size="11.5" font-style="italic">E</text>
<text x="7.5" y="1.5" font-size="8.2">0</text>
</g>
<g transform="translate(268,603.6) scale(0.995)" fill="#1a1a1a">
<text x="-0.63" y="1.15" font-size="12.6">&lt;</text>
<text x="9.2" y="0" font-size="11" font-style="italic" textLength="5.7" lengthAdjust="spacingAndGlyphs">e</text>
<text x="14.2" y="-4.1" font-size="7.8" textLength="19.6" lengthAdjust="spacingAndGlyphs">2<tspan font-style="italic">x</tspan>+<tspan font-style="italic">p</tspan></text>
<text x="36.46" y="1.15" font-size="12.6">&gt;</text>
</g>
<g class="t" transform="translate(134.3,461.3) scale(0.968)" fill="#1a1a1a">
<text x="-0.6" y="0" font-size="11.2" font-style="italic">K</text>
<text x="11.4" y="0" font-size="11.2" textLength="8.4" lengthAdjust="spacingAndGlyphs">=</text>
<text x="22.9" y="0" font-size="11.2">4,</text>
<text x="32.2" y="0" font-size="11.2" font-style="italic" textLength="7.0" lengthAdjust="spacingAndGlyphs">ħ</text>
<text x="40.6" y="0" font-size="11.2" textLength="8.4" lengthAdjust="spacingAndGlyphs">=</text>
<text x="54.2" y="-7.9" font-size="10.2" textLength="4.6" lengthAdjust="spacingAndGlyphs">1</text>
<rect x="53.7" y="-3.8" width="5.4" height="0.8"/>
<text x="54.2" y="7.1" font-size="10.2" textLength="4.6" lengthAdjust="spacingAndGlyphs">4</text>
<text x="59.8" y="0" font-size="11.2" textLength="50.6" lengthAdjust="spacingAndGlyphs">(dim = 81)</text>
</g>
<polygon points="406.2,597.9 408.0,596.7 409.8,594.3 411.6,593.5 413.4,591.1 415.2,590.4 417.0,588.0 418.8,587.3 420.6,585.0 422.4,584.2 424.2,582.0 426.0,581.3 427.8,579.0 429.6,578.3 431.4,576.1 433.2,575.3 435.0,573.1 436.8,572.4 438.6,570.2 440.4,569.4 442.2,567.1 444.0,566.4 445.8,564.1 447.6,563.3 449.4,561.1 451.2,560.3 453.0,558.0 454.8,557.2 456.6,554.9 458.4,554.2 460.2,551.9 462.0,551.2 463.8,548.9 465.6,548.2 467.4,545.9 469.2,545.2 471.0,543.0 472.8,542.3 474.6,540.1 476.4,539.3 478.2,537.2 480.0,536.5 481.8,534.3 483.6,533.7 485.4,531.6 487.2,530.9 489.0,528.8 490.8,528.1 492.6,526.0 494.4,525.4 496.2,523.4 498.0,522.7 499.8,520.7 501.6,520.0 503.4,518.1 505.2,517.5 507.0,515.6 508.8,514.9 510.6,513.0 512.4,512.4 514.2,510.5 516.0,509.9 517.8,508.1 519.6,507.5 521.4,505.7 523.2,505.1 525.0,503.3 526.8,502.7 528.6,501.0 530.4,500.4 532.2,498.6 534.0,498.1 535.8,496.4 537.6,495.8 539.4,494.2 541.2,493.6 543.0,492.0 544.8,491.5 546.6,490.0 548.4,489.5 550.2,488.0 552.0,487.6 553.8,486.1 555.6,485.7 557.4,484.4 559.2,484.0 561.0,482.7 562.8,482.2 564.6,480.9 566.4,480.6 568.2,479.4 570.0,479.1 571.8,478.0 573.6,477.7 575.4,476.6 576.9,476.2 586.4,473.2 587.6,472.2 610.4,472.2 612.0,473.2 616.0,474.8 620.0,476.8 622.8,478.8 623.6,480.8 623.6,484.8 623.6,485.2 618.9,488.1 612.0,491.9 604.0,496.0 596.0,500.0 588.0,503.9 577.0,509.5 558.8,519.0 537.5,529.9 517.5,540.1 497.2,550.3 480.0,558.9 468.2,564.9 459.9,569.4 452.2,573.8 443.2,578.5 433.6,583.4 424.0,588.4 414.4,593.4" fill="#e0edfb" stroke="#9da2c8" stroke-width="0.9" stroke-linejoin="round"/>
<line x1="399.3" y1="465.2" x2="399.3" y2="608.5" stroke="#909090" stroke-width="0.8"/>
<line x1="397.7" y1="606.1" x2="628" y2="606.1" stroke="#909090" stroke-width="0.8"/>
<line x1="399.3" y1="474.10" x2="400.50" y2="474.10" stroke="#909090" stroke-width="0.6"/>
<line x1="399.3" y1="484.40" x2="401.50" y2="484.40" stroke="#909090" stroke-width="0.6"/>
<line x1="399.3" y1="494.70" x2="400.50" y2="494.70" stroke="#909090" stroke-width="0.6"/>
<line x1="399.3" y1="505.00" x2="400.50" y2="505.00" stroke="#909090" stroke-width="0.6"/>
<line x1="399.3" y1="515.30" x2="400.50" y2="515.30" stroke="#909090" stroke-width="0.6"/>
<line x1="399.3" y1="525.60" x2="401.50" y2="525.60" stroke="#909090" stroke-width="0.6"/>
<line x1="399.3" y1="535.90" x2="400.50" y2="535.90" stroke="#909090" stroke-width="0.6"/>
<line x1="399.3" y1="546.20" x2="400.50" y2="546.20" stroke="#909090" stroke-width="0.6"/>
<line x1="399.3" y1="556.50" x2="400.50" y2="556.50" stroke="#909090" stroke-width="0.6"/>
<line x1="399.3" y1="566.80" x2="401.50" y2="566.80" stroke="#909090" stroke-width="0.6"/>
<line x1="399.3" y1="577.10" x2="400.50" y2="577.10" stroke="#909090" stroke-width="0.6"/>
<line x1="399.3" y1="587.40" x2="400.50" y2="587.40" stroke="#909090" stroke-width="0.6"/>
<line x1="399.3" y1="597.70" x2="400.50" y2="597.70" stroke="#909090" stroke-width="0.6"/>
<line x1="399.3" y1="608.00" x2="400.50" y2="608.00" stroke="#909090" stroke-width="0.6"/>
<line x1="404.82" y1="606.1" x2="404.82" y2="604.9" stroke="#909090" stroke-width="0.6"/>
<line x1="411.69" y1="606.1" x2="411.69" y2="604.9" stroke="#909090" stroke-width="0.6"/>
<line x1="418.56" y1="606.1" x2="418.56" y2="604.9" stroke="#909090" stroke-width="0.6"/>
<line x1="425.43" y1="606.1" x2="425.43" y2="604.9" stroke="#909090" stroke-width="0.6"/>
<line x1="432.30" y1="606.1" x2="432.30" y2="603.9" stroke="#909090" stroke-width="0.6"/>
<line x1="439.17" y1="606.1" x2="439.17" y2="604.9" stroke="#909090" stroke-width="0.6"/>
<line x1="446.04" y1="606.1" x2="446.04" y2="604.9" stroke="#909090" stroke-width="0.6"/>
<line x1="452.91" y1="606.1" x2="452.91" y2="604.9" stroke="#909090" stroke-width="0.6"/>
<line x1="459.78" y1="606.1" x2="459.78" y2="604.9" stroke="#909090" stroke-width="0.6"/>
<line x1="466.65" y1="606.1" x2="466.65" y2="604.9" stroke="#909090" stroke-width="0.6"/>
<line x1="473.52" y1="606.1" x2="473.52" y2="604.9" stroke="#909090" stroke-width="0.6"/>
<line x1="480.39" y1="606.1" x2="480.39" y2="604.9" stroke="#909090" stroke-width="0.6"/>
<line x1="487.26" y1="606.1" x2="487.26" y2="604.9" stroke="#909090" stroke-width="0.6"/>
<line x1="494.13" y1="606.1" x2="494.13" y2="604.9" stroke="#909090" stroke-width="0.6"/>
<line x1="501.00" y1="606.1" x2="501.00" y2="603.9" stroke="#909090" stroke-width="0.6"/>
<line x1="507.87" y1="606.1" x2="507.87" y2="604.9" stroke="#909090" stroke-width="0.6"/>
<line x1="514.74" y1="606.1" x2="514.74" y2="604.9" stroke="#909090" stroke-width="0.6"/>
<line x1="521.61" y1="606.1" x2="521.61" y2="604.9" stroke="#909090" stroke-width="0.6"/>
<line x1="528.48" y1="606.1" x2="528.48" y2="604.9" stroke="#909090" stroke-width="0.6"/>
<line x1="535.35" y1="606.1" x2="535.35" y2="604.9" stroke="#909090" stroke-width="0.6"/>
<line x1="542.22" y1="606.1" x2="542.22" y2="604.9" stroke="#909090" stroke-width="0.6"/>
<line x1="549.09" y1="606.1" x2="549.09" y2="604.9" stroke="#909090" stroke-width="0.6"/>
<line x1="555.96" y1="606.1" x2="555.96" y2="604.9" stroke="#909090" stroke-width="0.6"/>
<line x1="562.83" y1="606.1" x2="562.83" y2="604.9" stroke="#909090" stroke-width="0.6"/>
<line x1="569.70" y1="606.1" x2="569.70" y2="603.9" stroke="#909090" stroke-width="0.6"/>
<line x1="576.57" y1="606.1" x2="576.57" y2="604.9" stroke="#909090" stroke-width="0.6"/>
<line x1="583.44" y1="606.1" x2="583.44" y2="604.9" stroke="#909090" stroke-width="0.6"/>
<line x1="590.31" y1="606.1" x2="590.31" y2="604.9" stroke="#909090" stroke-width="0.6"/>
<line x1="597.18" y1="606.1" x2="597.18" y2="604.9" stroke="#909090" stroke-width="0.6"/>
<line x1="604.05" y1="606.1" x2="604.05" y2="604.9" stroke="#909090" stroke-width="0.6"/>
<line x1="610.92" y1="606.1" x2="610.92" y2="604.9" stroke="#909090" stroke-width="0.6"/>
<line x1="617.79" y1="606.1" x2="617.79" y2="604.9" stroke="#909090" stroke-width="0.6"/>
<line x1="624.66" y1="606.1" x2="624.66" y2="604.9" stroke="#909090" stroke-width="0.6"/>
<text x="322.8" y="486.9" font-size="7.3" textLength="74.9" lengthAdjust="spacingAndGlyphs" fill="#1a1a1a">4.2050436692744067075</text>
<text x="321.0" y="528.1" font-size="7.3" textLength="74.1" lengthAdjust="spacingAndGlyphs" fill="#1a1a1a">4.205043669274406707</text>
<text x="320.9" y="568.8" font-size="7.3" textLength="74.2" lengthAdjust="spacingAndGlyphs" fill="#1a1a1a">4.2050436692744067065</text>
<text x="322.8" y="609.1" font-size="7.3" textLength="74.9" lengthAdjust="spacingAndGlyphs" fill="#1a1a1a">4.205043669274406706</text>
<text x="403.1" y="617.7" font-size="7.3" textLength="58.4" lengthAdjust="spacingAndGlyphs" fill="#1a1a1a">1.28428163450137946</text>
<text x="471.8" y="617.7" font-size="7.3" textLength="58.4" lengthAdjust="spacingAndGlyphs" fill="#1a1a1a">1.28428163450137947</text>
<text x="540.5" y="617.7" font-size="7.3" textLength="58.4" lengthAdjust="spacingAndGlyphs" fill="#1a1a1a">1.28428163450137948</text>
<g transform="translate(386,469.5) scale(1.0)" fill="#1a1a1a">
<text x="-0.1" y="0" font-size="11.5" font-style="italic">E</text>
<text x="7.5" y="1.5" font-size="8.2">0</text>
</g>
<g transform="translate(592.9,600) scale(0.99)" fill="#1a1a1a">
<text x="-0.63" y="1.15" font-size="12.6">&lt;</text>
<text x="9.2" y="0" font-size="11" font-style="italic" textLength="5.7" lengthAdjust="spacingAndGlyphs">e</text>
<text x="14.2" y="-4.1" font-size="7.8" textLength="19.6" lengthAdjust="spacingAndGlyphs">2<tspan font-style="italic">x</tspan>+<tspan font-style="italic">p</tspan></text>
<text x="36.46" y="1.15" font-size="12.6">&gt;</text>
</g>
<g class="t" transform="translate(455.1,466) scale(1.015)" fill="#1a1a1a">
<text x="-0.6" y="0" font-size="11.2" font-style="italic">K</text>
<text x="11.4" y="0" font-size="11.2" textLength="8.4" lengthAdjust="spacingAndGlyphs">=</text>
<text x="22.9" y="0" font-size="11.2">4,</text>
<text x="32.2" y="0" font-size="11.2" font-style="italic" textLength="7.0" lengthAdjust="spacingAndGlyphs">ħ</text>
<text x="40.6" y="0" font-size="11.2" textLength="8.4" lengthAdjust="spacingAndGlyphs">=</text>
<text x="54.2" y="-7.9" font-size="10.2" textLength="4.6" lengthAdjust="spacingAndGlyphs">1</text>
<rect x="53.7" y="-3.8" width="5.4" height="0.8"/>
<text x="54.2" y="7.1" font-size="10.2" textLength="4.6" lengthAdjust="spacingAndGlyphs">5</text>
<text x="59.8" y="0" font-size="11.2" textLength="50.6" lengthAdjust="spacingAndGlyphs">(dim = 81)</text>
</g>
</svg>
</body></html>
